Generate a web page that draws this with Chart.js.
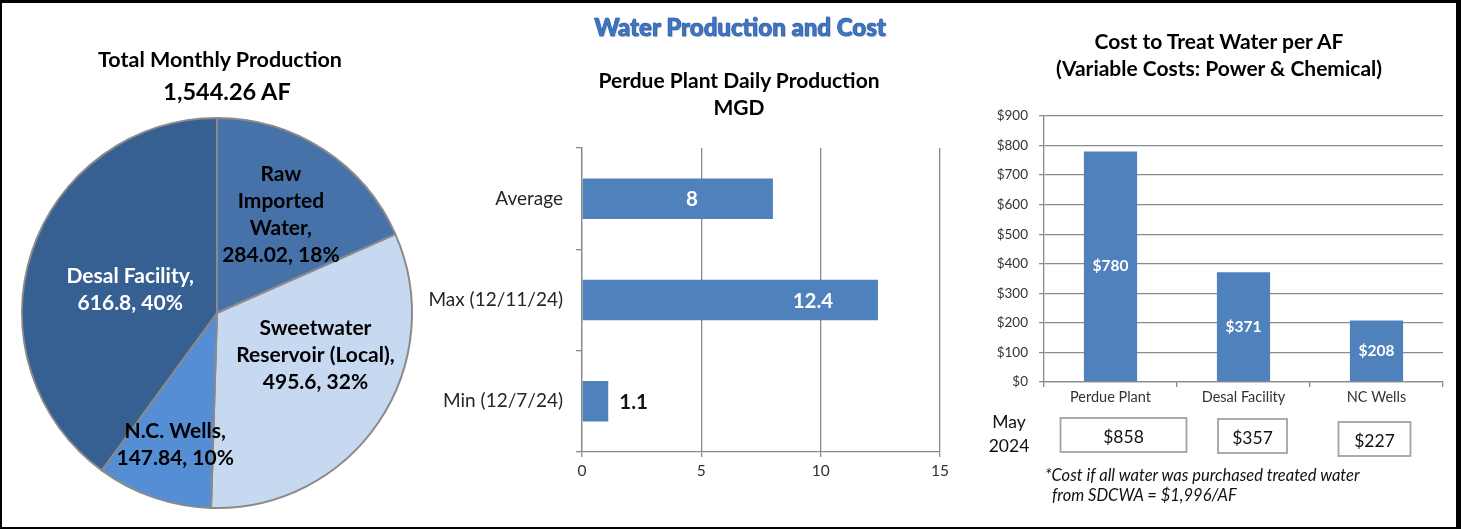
<!DOCTYPE html>
<html>
<head>
<meta charset="utf-8">
<title>Water Production and Cost</title>
<script src="https://cdn.jsdelivr.net/npm/chart.js@4.4.1/dist/chart.umd.min.js"></script>
<style>
  body { margin: 0; background: #fff; font-family: Lato, 'Open Sans', sans-serif; }
  #page { position: relative; width: 1461px; height: 529px; overflow: hidden; background: #fff; }
  #frame {
    position: absolute; left: 0; top: 0; width: 1461px; height: 529px;
    box-sizing: border-box; border-style: solid; border-color: #000;
    border-width: 3px 5px 2px 2px; z-index: 3; pointer-events: none;
  }
  canvas { position: absolute; top: 0; }
  .txt { position: absolute; white-space: nowrap; text-align: center; color: #000; font-weight: 700; z-index: 2; }
  .note { position: absolute; white-space: nowrap; font-style: italic; font-size: 16.5px; line-height: 20px; color: #111; z-index: 2; }
</style>
</head>
<body>
<div id="page">
  <canvas id="pie-chart" width="440" height="529" style="left:0"></canvas>
  <canvas id="daily-chart" width="540" height="529" style="left:420px"></canvas>
  <canvas id="cost-chart" width="501" height="529" style="left:960px"></canvas>

  <div class="txt" style="left:20px; width:400px; top:47px; font-size:21.5px; line-height:24px;">Total Monthly Production</div>
  <div class="txt" id="pie-total" style="left:27px; width:400px; top:77px; font-size:23.5px; line-height:28px;"></div>
  <div class="txt" style="left:540px; width:400px; top:13px; font-size:24px; line-height:28px; font-weight:900; color:#3e75c5; -webkit-text-stroke:0.5px #2c5fa8; text-shadow:0 0 1px #1d4f9c, 1px 1px 1px rgba(0,0,0,0.25);">Water Production and Cost</div>
  <div class="txt" style="left:539px; width:400px; top:67px; font-size:21px; line-height:26.5px;">Perdue Plant Daily Production<br>MGD</div>
  <div class="txt" style="left:1019px; width:400px; top:28px; font-size:21px; line-height:26.5px;">Cost to Treat Water per AF<br>(Variable Costs: Power &amp; Chemical)</div>
  <div class="note" style="left:1045px; top:465px;">*Cost if all water was purchased treated water</div>
  <div class="note" style="left:1052px; top:485px;">from SDCWA = $1,996/AF</div>
  <div id="frame"></div>
</div>

<script>
  // total monthly production (AF)
  const gSourceNames = [['Raw', 'Imported', 'Water'], ['Sweetwater', 'Reservoir (Local)'], ['N.C. Wells'], ['Desal Facility']];
  const gSourceAF = [284.02, 495.6, 147.84, 616.8];

  // perdue plant daily production (MGD)
  const gDailyLabels = ['Average', 'Max (12/11/24)', 'Min (12/7/24)'];
  const gDailyMGD = [8, 12.4, 1.1];
  const gDailyTicks = [0, 5, 10, 15];

  // cost to treat water per AF
  const gCostLabels = ['Perdue Plant', 'Desal Facility', 'NC Wells'];
  const gCostPerAF = [780, 371, 208];
  const gCostTicks = [0, 100, 200, 300, 400, 500, 600, 700, 800, 900];
  const gPriorPeriod = ['May', '2024'];
  const gPriorCostPerAF = [858, 357, 227];

  const G_FONT = "Lato, 'Open Sans', sans-serif";
  const G_BAR = '#4f81bd';
  const G_GRID = '#8a8a8a';

  // total in the pie title
  let vTotalAF = gSourceAF.reduce((a, b) => a + b, 0);
  document.getElementById('pie-total').textContent =
    vTotalAF.toLocaleString('en-US', { minimumFractionDigits: 2, maximumFractionDigits: 2 }) + ' AF';

  // labels written inside the pie slices
  const gSliceLabelPlugin = {
    id: 'sliceLabels',
    afterDatasetsDraw(pChart, pArgs, pOpts) {
      let vCtx = pChart.ctx;
      let vMeta = pChart.getDatasetMeta(0);
      vCtx.save();
      vCtx.font = pOpts.font;
      vCtx.textAlign = 'center';
      vCtx.textBaseline = 'middle';
      vMeta.data.forEach(function (pArc, i) {
        let p = pArc.getProps(['x', 'y', 'startAngle', 'endAngle', 'outerRadius'], true);
        let vPlace = pOpts.place[i];
        let vAngle = (p.startAngle + p.endAngle) / 2 + (vPlace.shift * Math.PI) / 180;
        let vR = p.outerRadius * vPlace.r;
        let vX = p.x + Math.cos(vAngle) * vR;
        let vY = p.y + Math.sin(vAngle) * vR;
        let vLines = gSourceNames[i].slice();
        vLines[vLines.length - 1] += ',';
        vLines.push(gSourceAF[i] + ', ' + Math.round((gSourceAF[i] / vTotalAF) * 100) + '%');
        let vTop = vY - ((vLines.length - 1) * pOpts.lineHeight) / 2;
        vCtx.fillStyle = pOpts.colors[i];
        vLines.forEach((l, k) => vCtx.fillText(l, vX, vTop + k * pOpts.lineHeight));
      });
      vCtx.restore();
    },
  };

  // value labels on the daily production bars
  const gDailyLabelPlugin = {
    id: 'dailyLabels',
    afterDatasetsDraw(pChart, pArgs, pOpts) {
      let vCtx = pChart.ctx;
      vCtx.save();
      vCtx.font = pOpts.font;
      vCtx.textBaseline = 'middle';
      pChart.getDatasetMeta(0).data.forEach(function (pBar, i) {
        let p = pBar.getProps(['x', 'y', 'base'], true);
        let vText = String(gDailyMGD[i]);
        let vSpot = pOpts.spots[i];
        if (vSpot < 0) {
          vCtx.textAlign = 'left';
          vCtx.fillStyle = pOpts.outsideColor;
          vCtx.fillText(vText, p.x + pOpts.gap, p.y + 1);
        } else {
          vCtx.textAlign = 'center';
          vCtx.fillStyle = pOpts.insideColor;
          vCtx.fillText(vText, p.base + (p.x - p.base) * vSpot, p.y + 1);
        }
      });
      vCtx.restore();
    },
  };

  // value labels on cost bars + prior period boxes
  const gCostExtrasPlugin = {
    id: 'costExtras',
    afterDatasetsDraw(pChart, pArgs, pOpts) {
      let vCtx = pChart.ctx;
      let vArea = pChart.chartArea;
      let vScaleX = pChart.scales.x;
      vCtx.save();
      vCtx.textAlign = 'center';
      vCtx.textBaseline = 'middle';
      vCtx.font = pOpts.barFont;
      vCtx.fillStyle = '#fff';
      pChart.getDatasetMeta(0).data.forEach(function (pBar, i) {
        let p = pBar.getProps(['x', 'y', 'base'], true);
        vCtx.fillText('$' + gCostPerAF[i], p.x, (p.y + p.base) / 2);
      });

      // prior period label
      vCtx.font = pOpts.boxFont;
      vCtx.fillStyle = '#111';
      gPriorPeriod.forEach((l, k) => vCtx.fillText(l, vArea.left - 35, vArea.bottom + 40 + k * 24));

      // prior period boxes
      vCtx.strokeStyle = '#a3a3a3';
      vCtx.lineWidth = 1.8;
      gPriorCostPerAF.forEach(function (pValue, i) {
        let vBox = pOpts.boxes[i];
        let vCx = vScaleX.getPixelForValue(i) + vBox.dx;
        let vTop = vArea.bottom + 36 + vBox.dy;
        vCtx.strokeRect(vCx - vBox.w / 2, vTop, vBox.w, 34);
        vCtx.fillText('$' + pValue, vCx, vTop + 19);
      });
      vCtx.restore();
    },
  };

  // pie chart
  new Chart(document.getElementById('pie-chart'), {
    type: 'pie',
    data: {
      labels: gSourceNames.map((n) => n.join(' ')),
      datasets: [
        {
          data: gSourceAF,
          backgroundColor: ['#4672a9', '#c6d9f1', '#558ed5', '#376092'],
          borderColor: '#8a8a8a',
          borderWidth: 2,
        },
      ],
    },
    options: {
      responsive: false,
      animation: false,
      layout: { padding: { top: 117, bottom: 20, left: 21, right: 27 } },
      plugins: {
        legend: { display: false },
        tooltip: { enabled: false },
        sliceLabels: {
          font: '700 21px ' + G_FONT,
          lineHeight: 27,
          colors: ['#000', '#000', '#000', '#fff'],
          place: [
            { r: 0.6, shift: 0 },
            { r: 0.55, shift: -10.6 },
            { r: 0.71, shift: -1.4 },
            { r: 0.46, shift: -3.4 },
          ],
        },
      },
    },
    plugins: [gSliceLabelPlugin],
  });

  // daily production bar chart
  new Chart(document.getElementById('daily-chart'), {
    type: 'bar',
    data: {
      labels: gDailyLabels,
      datasets: [{ data: gDailyMGD, backgroundColor: G_BAR, barPercentage: 0.4, categoryPercentage: 1 }],
    },
    options: {
      indexAxis: 'y',
      responsive: false,
      animation: false,
      layout: { padding: { top: 148, right: 20, left: 0, bottom: 0 } },
      scales: {
        x: {
          min: gDailyTicks[0],
          max: gDailyTicks[gDailyTicks.length - 1],
          ticks: { stepSize: gDailyTicks[1] - gDailyTicks[0], color: '#333', font: { family: G_FONT, size: 15.5 }, padding: 5 },
          grid: { color: G_GRID, lineWidth: 1.3, tickLength: 5 },
          border: { color: G_GRID, width: 1.3 },
          afterFit: (s) => { s.height = 77; },
        },
        y: {
          ticks: { color: '#262626', font: { family: G_FONT, size: 19 }, padding: 13 },
          grid: { drawOnChartArea: false, offset: true, color: G_GRID, lineWidth: 1.3, tickLength: 6 },
          border: { color: G_GRID, width: 1.3 },
          afterFit: (s) => { s.width = 162; },
        },
      },
      plugins: {
        legend: { display: false },
        tooltip: { enabled: false },
        dailyLabels: {
          font: '700 20.5px ' + G_FONT,
          insideColor: '#fff',
          outsideColor: '#111',
          spots: [0.575, 0.78, -1],
          gap: 11,
        },
      },
    },
    plugins: [gDailyLabelPlugin],
  });

  // cost per AF bar chart
  new Chart(document.getElementById('cost-chart'), {
    type: 'bar',
    data: {
      labels: gCostLabels,
      datasets: [{ data: gCostPerAF, backgroundColor: G_BAR, barPercentage: 0.4, categoryPercentage: 1 }],
    },
    options: {
      responsive: false,
      animation: false,
      layout: { padding: { top: 116, right: 18, left: 0, bottom: 0 } },
      scales: {
        x: {
          ticks: { color: '#333', font: { family: G_FONT, size: 14.5 }, padding: 2 },
          grid: { drawOnChartArea: false, offset: true, color: G_GRID, lineWidth: 1.3, tickLength: 5 },
          border: { color: G_GRID, width: 1.3 },
          afterFit: (s) => { s.height = 147; },
        },
        y: {
          min: gCostTicks[0],
          max: gCostTicks[gCostTicks.length - 1],
          ticks: {
            stepSize: gCostTicks[1] - gCostTicks[0],
            color: '#333',
            font: { family: G_FONT, size: 13.5 },
            padding: 11,
            callback: (v) => '$' + v,
          },
          grid: { color: G_GRID, lineWidth: 1.3, tickLength: 5 },
          border: { color: G_GRID, width: 1.3 },
          afterFit: (s) => { s.width = 84; },
        },
      },
      plugins: {
        legend: { display: false },
        tooltip: { enabled: false },
        costExtras: {
          barFont: '700 15.5px ' + G_FONT,
          boxFont: '17.5px ' + G_FONT,
          boxes: [
            { w: 126, dx: 13, dy: 0 },
            { w: 69, dx: 9, dy: 1 },
            { w: 72, dx: -2, dy: 4 },
          ],
        },
      },
    },
    plugins: [gCostExtrasPlugin],
  });
</script>
</body>
</html>
